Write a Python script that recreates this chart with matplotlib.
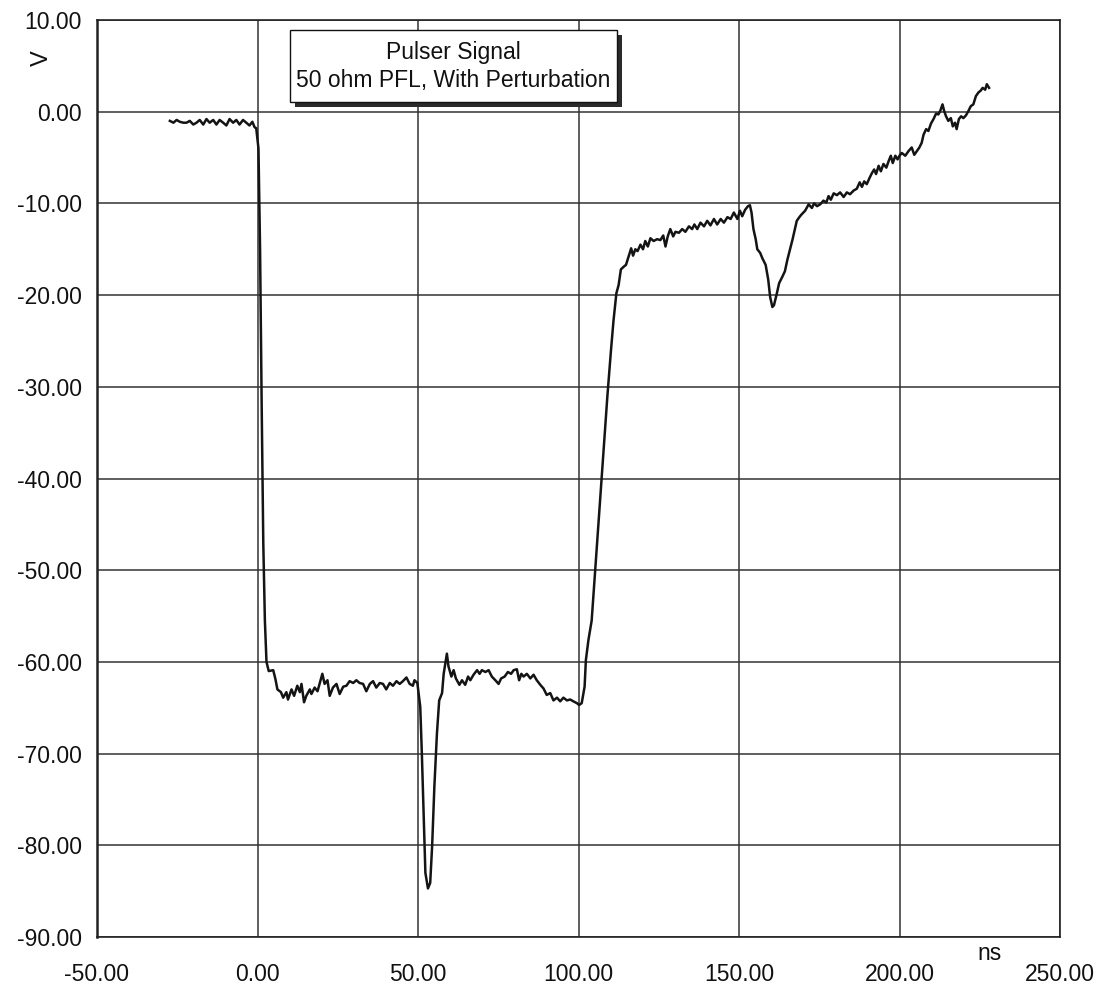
import matplotlib
matplotlib.use("Agg")
import matplotlib.pyplot as plt
from matplotlib.patches import Rectangle

plt.rcParams["font.family"] = ["Liberation Sans", "DejaVu Sans"]
plt.rcParams["axes.unicode_minus"] = False

# Pulser output trace: time (ns) and voltage (V)
time_ns = [
    -27.3, -26.2, -25.2, -24.2, -23.1, -22.1, -21.1, -20.0, -19.0, -18.0,
    -16.9, -15.9, -14.9, -13.8, -12.8, -11.8, -10.7, -9.7, -8.7, -7.6,
    -6.6, -5.6, -4.5, -3.5, -2.5, -1.6, -0.9,
    -0.4, 0.3, 0.8, 1.3, 1.8, 2.3, 2.8,
    3.5, 4.9, 5.6, 6.2, 7.3, 8.0, 9.0, 9.5, 10.6, 11.4,
    12.4, 13.2, 13.7, 14.5, 15.2, 16.3, 16.8, 17.8, 18.7, 19.4,
    20.2, 20.9, 21.8, 22.5, 23.5, 24.6, 25.6, 26.7, 27.7, 28.7,
    29.8, 30.8, 31.8, 32.9, 33.9, 35.0, 36.0, 37.0, 38.1, 39.1,
    40.1, 41.2, 42.2, 43.3, 44.3, 45.3, 46.4, 47.4, 48.4, 48.9, 49.8,
    50.7, 51.2, 51.8, 52.3, 53.1, 53.8, 54.4, 55.1, 55.9, 56.6,
    57.5, 58.0, 59.0, 59.5, 60.4, 61.1, 61.8, 62.9, 63.7, 64.7,
    65.6, 66.3, 67.3, 68.4, 69.2, 69.9, 71.0, 72.0, 73.0, 74.1,
    75.1, 75.9, 77.0, 78.0, 79.0, 79.8, 80.8, 81.5, 82.2, 82.9,
    83.9, 85.0, 86.0, 87.0, 88.1, 89.1, 90.1, 91.2, 92.2, 93.3,
    94.3, 95.3, 96.4, 97.4, 98.4, 99.5, 100.2, 101.0, 101.9, 102.3,
    103.1, 104.1, 105.0, 106.0, 107.0, 108.0, 109.0,
    110.1, 110.9, 111.8, 112.5, 113.2, 114.1, 114.8, 115.6, 116.4, 117.0,
    117.7, 118.4, 119.3, 120.1, 120.8, 121.6, 122.4, 123.4, 124.5, 125.5,
    126.4, 127.1, 127.8, 128.6, 129.5, 130.2, 131.3, 132.3, 133.3, 134.4,
    135.4, 136.1, 137.0, 138.0, 139.1, 140.1, 141.1, 142.2, 143.2, 144.3,
    145.3, 146.4, 147.4, 148.4, 149.5, 150.3, 151.0, 151.9, 152.8, 153.4,
    153.9, 154.5, 155.2, 155.7, 156.6, 157.3, 158.3, 159.1, 159.7, 160.4,
    160.9, 161.8, 162.5, 163.5, 164.3, 165.1, 165.9, 166.7, 167.4, 168.0,
    168.8, 169.5, 170.6, 171.7, 172.7, 173.4, 174.3, 175.3, 176.3, 177.2,
    177.9, 178.6, 179.5, 180.5, 181.5, 182.6, 183.6, 184.6, 185.7, 186.7,
    187.6, 188.3, 189.0, 189.8, 190.7, 191.4, 192.1, 192.7, 193.5, 194.2,
    195.0, 195.9, 196.6, 197.3, 197.9, 198.7, 199.4, 200.0, 200.7, 201.8,
    202.8, 203.8, 204.6, 205.4, 206.2, 206.9, 207.5, 208.3, 209.0, 209.8,
    210.6, 211.4, 212.1, 212.7, 213.4, 213.9, 214.5, 215.2, 216.0, 216.6,
    217.3, 217.8, 218.5, 219.2, 219.9, 220.7, 221.5, 222.2, 223.0, 223.8,
    224.6, 225.3, 225.9, 226.7, 227.2, 227.9,
]

voltage_v = [
    -1.0, -1.2, -0.9, -1.1, -1.2, -1.2, -1.0, -1.4, -1.2, -0.9,
    -1.4, -0.8, -1.2, -0.9, -1.4, -0.9, -1.2, -1.5, -0.8, -1.2,
    -0.9, -1.4, -0.9, -1.2, -1.5, -1.1, -1.7,
    -1.8, -4.0, -15.0, -32.0, -47.0, -55.5, -60.0,
    -61.0, -60.9, -61.9, -63.0, -63.3, -63.9, -63.3, -64.1, -63.0, -63.7,
    -62.6, -63.3, -62.4, -64.4, -63.7, -63.0, -63.5, -62.8, -63.2, -62.3,
    -61.3, -62.4, -62.0, -63.7, -62.8, -62.4, -63.5, -62.7, -62.6, -62.1,
    -62.3, -62.0, -62.3, -62.4, -63.2, -62.4, -62.1, -62.8, -62.3, -62.4,
    -63.0, -62.3, -62.6, -62.1, -62.4, -62.1, -61.7, -62.4, -62.6, -62.0, -62.3,
    -64.9, -70.0, -77.2, -83.0, -84.7, -84.1, -80.1, -73.6, -67.8, -64.2,
    -63.4, -61.3, -59.1, -60.5, -61.6, -60.9, -61.8, -62.5, -62.0, -62.5,
    -61.6, -62.0, -61.4, -60.9, -61.3, -60.9, -61.1, -60.9, -61.6, -62.0,
    -62.4, -61.8, -61.6, -61.1, -61.3, -60.9, -60.8, -62.0, -61.3, -61.6,
    -61.3, -61.8, -61.4, -62.0, -62.5, -62.9, -63.6, -63.4, -64.2, -63.9,
    -64.3, -63.9, -64.2, -64.1, -64.3, -64.5, -64.7, -64.5, -62.7, -59.8,
    -57.6, -55.5, -51.0, -46.0, -41.0, -36.0, -31.0,
    -26.1, -22.8, -19.8, -18.9, -17.2, -16.9, -16.7, -15.8, -14.9, -15.7,
    -15.0, -15.2, -14.5, -15.0, -14.1, -14.7, -13.8, -14.1, -13.9, -14.0,
    -13.5, -14.7, -13.6, -12.8, -13.6, -13.1, -13.2, -12.8, -13.1, -12.5,
    -12.8, -12.3, -12.8, -12.1, -12.5, -11.9, -12.4, -11.7, -12.3, -11.7,
    -12.1, -11.5, -11.7, -11.0, -11.7, -10.8, -11.4, -10.7, -10.3, -10.2,
    -11.0, -12.8, -13.9, -15.0, -15.4, -16.0, -16.7, -18.3, -20.2, -21.3,
    -21.1, -19.8, -18.7, -18.0, -17.4, -16.1, -15.0, -13.9, -12.8, -11.9,
    -11.5, -11.2, -10.8, -10.1, -10.5, -10.0, -10.3, -10.1, -9.7, -9.9,
    -9.2, -9.6, -8.9, -9.1, -8.8, -9.3, -8.8, -9.0, -8.6, -8.4,
    -7.7, -8.2, -7.6, -7.9, -7.2, -6.7, -6.3, -6.8, -5.9, -6.5,
    -5.7, -6.1, -5.4, -4.8, -5.6, -4.8, -5.2, -4.8, -4.5, -4.8,
    -4.3, -3.9, -4.7, -4.3, -3.9, -3.4, -2.5, -1.9, -2.1, -1.3,
    -0.8, -0.2, -0.3, 0.1, 0.8, 0.1, -0.5, -1.0, -0.7, -1.6,
    -1.2, -1.9, -0.8, -0.5, -0.7, -0.4, 0.1, 0.6, 0.8, 1.7,
    2.1, 2.3, 2.6, 2.4, 3.0, 2.6,
]

x_ticks = [-50, 0, 50, 100, 150, 200, 250]
y_ticks = [10, 0, -10, -20, -30, -40, -50, -60, -70, -80, -90]
title_lines = ["Pulser Signal", "50 ohm PFL, With Perturbation"]

W, H = 1099, 988
fig = plt.figure(figsize=(W / 100, H / 100), dpi=100)
fig.patch.set_facecolor("white")

def fx(px):
    return px / W

def fy(py):
    return 1 - py / H

ax = fig.add_axes([fx(97), fy(937), (1060 - 97) / W, (937 - 20) / H])
ax.plot(time_ns, voltage_v, color="#141414", lw=1.8, solid_joinstyle="round")

ax.set_xlim(-50, 250)
ax.set_ylim(-90, 10)
ax.set_xticks(x_ticks)
ax.set_yticks(y_ticks)
ax.set_xticklabels([f"{v:.2f}" for v in x_ticks])
ax.set_yticklabels([f"{v:.2f}" for v in y_ticks])
ax.tick_params(axis="both", length=0, labelsize=16.5, colors="#111111")
ax.tick_params(axis="x", pad=19)
ax.tick_params(axis="y", pad=11)
ax.grid(True, color="#333333", lw=1.1)
ax.set_axisbelow(True)
for s in ax.spines.values():
    s.set_color("#222222")
    s.set_linewidth(1.2)
ax.spines["left"].set_linewidth(1.8)

# Axis unit labels
fig.text(fx(42), fy(58), "V", rotation=90, ha="center", va="center",
         fontsize=17, color="#111111")
fig.text(fx(990), fy(953), "ns", ha="center", va="center",
         fontsize=16.5, color="#111111")

# Title box with drop shadow
shadow = Rectangle((fx(295), fy(107)), (622 - 295) / W, (107 - 35) / H,
                   transform=fig.transFigure, facecolor="#2a2a2a",
                   edgecolor="none", zorder=5)
box = Rectangle((fx(290), fy(102)), (617 - 290) / W, (102 - 30) / H,
                transform=fig.transFigure, facecolor="white",
                edgecolor="#111111", lw=1.0, zorder=6)
fig.add_artist(shadow)
fig.add_artist(box)
fig.text(fx(453), fy(52), title_lines[0], ha="center", va="center",
         fontsize=16.5, color="#111111", zorder=7)
fig.text(fx(453), fy(80), title_lines[1], ha="center", va="center",
         fontsize=16.5, color="#111111", zorder=7)

fig.savefig("out.png", dpi=100, facecolor="white")
